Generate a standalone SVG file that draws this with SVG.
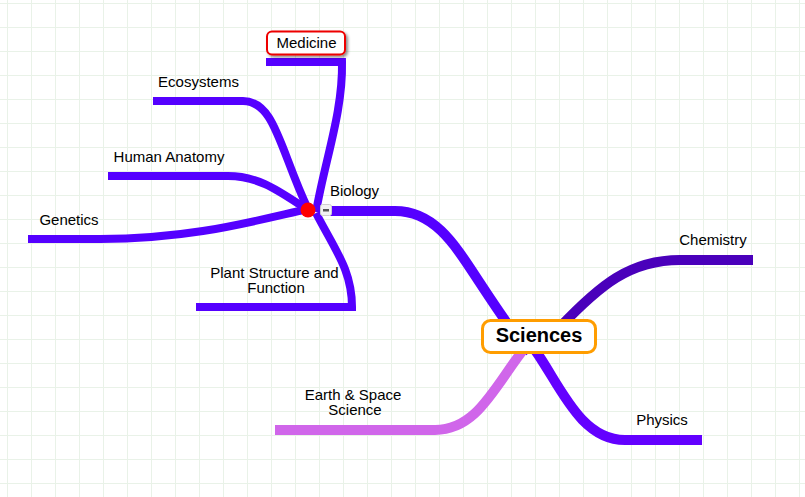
<svg xmlns="http://www.w3.org/2000/svg" width="805" height="497" viewBox="0 0 805 497">
<style>
.c{fill:none;stroke-width:8}
.w{stroke-width:10}
.t{font-family:"Liberation Sans",Arial,sans-serif;font-size:15px;fill:#000;text-anchor:middle}
</style>
<defs>
<pattern id="g" width="24" height="24" patternUnits="userSpaceOnUse" x="7" y="3">
<path d="M0.5 0V24M0 0.5H24" fill="none" stroke="#e9f2e8" stroke-width="1"/>
</pattern>
<filter id="s" x="-20%" y="-30%" width="140%" height="170%"><feDropShadow dx="2" dy="2" stdDeviation="1.5" flood-color="#000" flood-opacity="0.45"/></filter>
</defs>
<rect width="805" height="497" fill="#fff"/>
<rect width="805" height="497" fill="url(#g)"/>
<g id="connectors">
<path class="c" stroke="#5500ff" d="M266 62H342C343 112 325 160 316 212"/>
<path class="c" stroke="#5500ff" d="M153 101H243C275 101 280 150 308 209"/>
<path class="c" stroke="#5500ff" d="M108 176H228C260 176 280 192 308 210"/>
<path class="c" stroke="#5500ff" d="M28 239H100C190 239 250 222 308 209"/>
<path class="c" stroke="#5500ff" d="M196 307H352C352 270 335 250 316 213"/>
<path class="c w" stroke="#5500ff" d="M330 211H395C435 211 455 245 480 283S515 335 530 352"/>
<path class="c w" stroke="#4a00bb" d="M560 327C600 285 630 260 680 260H753"/>
<path class="c w" stroke="#6300ff" d="M535 350C560 385 580 440 625 440H702"/>
<path class="c w" stroke="#d066ea" d="M527 345C495 385 478 430 435 430H275"/>
</g>
<g id="biology-hub">
<circle cx="308" cy="210" r="7.500" fill="#ff0000"/>
<rect x="320.500" y="204.500" width="11" height="11" rx="2" fill="#f2f2f2" stroke="#cfcfcf"/>
<rect x="323" y="209" width="6" height="2.500" fill="#555"/>
</g>
<g id="node-sciences">
<rect x="482.500" y="320.500" width="113" height="32" rx="8" fill="#fff" stroke="#ff9d00" stroke-width="3"/>
<text class="t" x="539" y="342" style="font-size:20px;font-weight:bold">Sciences</text>
</g>
<g id="node-medicine">
<rect x="267" y="31.500" width="78" height="23" rx="5" fill="#fff" stroke="#ee0000" stroke-width="2" filter="url(#s)"/>
<text class="t" x="306.500" y="48">Medicine</text>
</g>
<g id="node-ecosystems"><text class="t" x="198.500" y="87">Ecosystems</text></g>
<g id="node-human-anatomy"><text class="t" x="169" y="162">Human Anatomy</text></g>
<g id="node-genetics"><text class="t" x="69" y="225">Genetics</text></g>
<g id="node-biology"><text class="t" x="354.500" y="196">Biology</text></g>
<g id="node-plant"><text class="t" y="278"><tspan x="274.500">Plant Structure and</tspan><tspan x="276" y="293">Function</tspan></text></g>
<g id="node-chemistry"><text class="t" x="713" y="245">Chemistry</text></g>
<g id="node-physics"><text class="t" x="662" y="425">Physics</text></g>
<g id="node-earth"><text class="t" y="400"><tspan x="353">Earth &amp; Space</tspan><tspan x="355" y="415">Science</tspan></text></g>
</svg>
